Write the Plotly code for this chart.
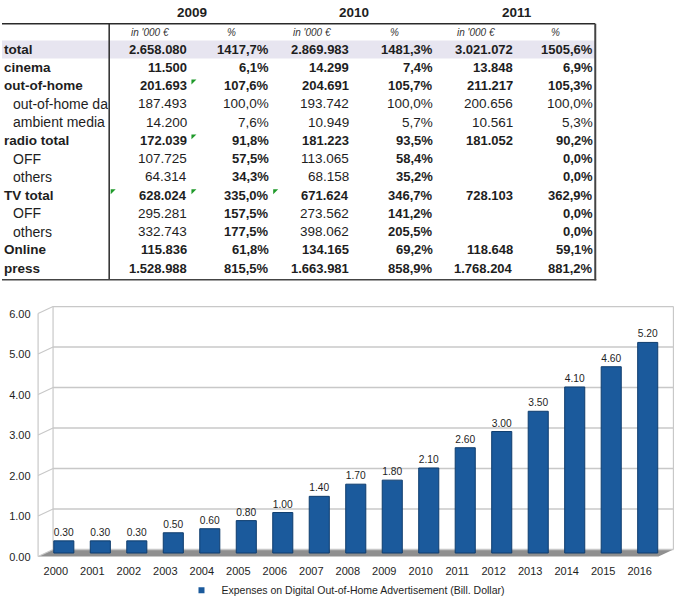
import plotly.graph_objects as go

W, H = 684, 612

# ---------------- table data ----------------
table_years = ["2009", "2010", "2011"]
row_labels = ["total", "cinema", "out-of-home", "out-of-home da", "ambient media",
              "radio total", "OFF", "others", "TV total", "OFF", "others",
              "Online", "press"]
row_bold = [True, True, True, False, False, True, False, False, True, False, False, True, True]
row_indent = [False, False, False, True, True, False, True, True, False, True, True, False, False]

values_2009 = [2658080, 11500, 201693, 187493, 14200, 172039, 107725, 64314,
               628024, 295281, 332743, 115836, 1528988]
pct_2009 = [1417.7, 6.1, 107.6, 100.0, 7.6, 91.8, 57.5, 34.3, 335.0, 157.5, 177.5, 61.8, 815.5]
values_2010 = [2869983, 14299, 204691, 193742, 10949, 181223, 113065, 68158,
               671624, 273562, 398062, 134165, 1663981]
pct_2010 = [1481.3, 7.4, 105.7, 100.0, 5.7, 93.5, 58.4, 35.2, 346.7, 141.2, 205.5, 69.2, 858.9]
values_2011 = [3021072, 13848, 211217, 200656, 10561, 181052, None, None,
               728103, None, None, 118648, 1768204]
pct_2011 = [1505.6, 6.9, 105.3, 100.0, 5.3, 90.2, 0.0, 0.0, 362.9, 0.0, 0.0, 59.1, 881.2]

unit_label = "in '000 €"
pct_label = "%"

# ---------------- chart data ----------------
chart_years = ["2000", "2001", "2002", "2003", "2004", "2005", "2006", "2007", "2008",
               "2009", "2010", "2011", "2012", "2013", "2014", "2015", "2016"]
expenses = [0.30, 0.30, 0.30, 0.50, 0.60, 0.80, 1.00, 1.40, 1.70,
            1.80, 2.10, 2.60, 3.00, 3.50, 4.10, 4.60, 5.20]
y_ticks = [0, 1, 2, 3, 4, 5, 6]
series_name = "Expenses on Digital Out-of-Home Advertisement (Bill. Dollar)"

FONT = "Liberation Sans, Arial, Helvetica, sans-serif"
TXT = "#1e1e1e"


def px(x):
    return x / W


def py(y):
    return 1 - y / H


def fmt_num(v):
    return "" if v is None else f"{v:,}".replace(",", ".")


def fmt_pct(p):
    return "" if p is None else f"{p:.1f}%".replace(".", ",")


fig = go.Figure()

# ---------------- bar chart geometry ----------------
n = len(chart_years)
CAT_W = 36.6
BAR0 = 62.0
PLOT_L = BAR0 - CAT_W / 2
PLOT_R = PLOT_L + n * CAT_W
UNIT = 40.9
ZERO = 558.5
YMIN, YMAX = -0.1, 6.1
DX, DY = 7.5, 3.5
dv = DY / UNIT
BACK_L, BACK_R = PLOT_L + DX, PLOT_R + DX
FRONT_L, FRONT_R = PLOT_L - DX, PLOT_R - DX

fig.add_trace(go.Bar(
    x=chart_years, y=expenses, width=0.55,
    marker=dict(color="#1b5a9c", line=dict(color="#0f3d6e", width=1)),
    text=[f"{v:.2f}" for v in expenses], textposition="outside",
    textfont=dict(size=10.5, color=TXT, family=FONT), cliponaxis=False,
    showlegend=False, name=series_name,
))
# legend entry with a small square symbol
fig.add_trace(go.Scatter(
    x=[None], y=[None], mode="markers", name=series_name,
    marker=dict(symbol="square", size=6, color="#1b5a9c"), showlegend=True,
))

shapes = []
grid_col = "#c8c8c8"
# floor
shapes.append(dict(type="path", xref="paper", yref="y", layer="below",
                   path=f"M{px(FRONT_L)},{-dv} L{px(BACK_L)},{dv} L{px(BACK_R)},{dv} "
                        f"L{px(FRONT_R)},{-dv} Z",
                   fillcolor="#8f8f8f", line=dict(width=0)))
for k in y_ticks:
    shapes.append(dict(type="line", xref="paper", yref="y", layer="below",
                       x0=px(BACK_L), x1=px(BACK_R), y0=k + dv, y1=k + dv,
                       line=dict(color=grid_col, width=1.5)))
    shapes.append(dict(type="line", xref="paper", yref="y", layer="below",
                       x0=px(FRONT_L), x1=px(BACK_L), y0=k - dv, y1=k + dv,
                       line=dict(color=grid_col, width=1.2)))
for xe, lo, hi in [(FRONT_L, -dv, y_ticks[-1] - dv), (BACK_L, dv, y_ticks[-1] + dv),
                   (BACK_R, dv, y_ticks[-1] + dv)]:
    shapes.append(dict(type="line", xref="paper", yref="y", layer="below",
                       x0=px(xe), x1=px(xe), y0=lo, y1=hi,
                       line=dict(color=grid_col, width=1.2)))

# ---------------- table ----------------
ROW0, ROW_H = 49.5, 18.45
TABLE_R = 595
col_right = [187, 269, 349, 433, 513, 594]
year_centers = [191, 353, 517]
unit_centers = [148, 311, 475]
pct_centers = [230, 394, 555]

annotations = []


def add_text(x, y, text, size, anchor="left", bold=False, italic=False, color=TXT):
    t = text
    if bold:
        t = f"<b>{t}</b>"
    if italic:
        t = f"<i>{t}</i>"
    annotations.append(dict(x=px(x), y=py(y), xref="paper", yref="paper", text=t,
                            showarrow=False, xanchor=anchor, yanchor="middle",
                            borderpad=0,
                            font=dict(size=size, color=color, family=FONT)))


# total row band
shapes.append(dict(type="rect", xref="paper", yref="paper", layer="below",
                   x0=px(0), x1=px(TABLE_R), y0=py(ROW0 - 8.5), y1=py(ROW0 + 9.5),
                   fillcolor="#e7e5f0", line=dict(width=0)))
# table lines
line_dark = dict(color="#2a2a2a", width=1.5)
TABLE_B = 282.5
shapes += [
    dict(type="line", xref="paper", yref="paper", x0=px(0), x1=px(TABLE_R),
         y0=py(24), y1=py(24), line=line_dark),
    dict(type="line", xref="paper", yref="paper", x0=px(107.5), x1=px(107.5),
         y0=py(24), y1=py(TABLE_B), line=line_dark),
    dict(type="line", xref="paper", yref="paper", x0=px(TABLE_R), x1=px(TABLE_R),
         y0=py(24), y1=py(TABLE_B + 0.5), line=dict(color="#444", width=2)),
    dict(type="line", xref="paper", yref="paper", x0=px(0), x1=px(TABLE_R + 1),
         y0=py(TABLE_B), y1=py(TABLE_B), line=dict(color="#444", width=1.5)),
]

for yr, xc in zip(table_years, year_centers):
    add_text(xc, 12.5, yr, 13.5, anchor="center", bold=True)
for xc in unit_centers:
    add_text(xc, 33, unit_label, 10, anchor="center", italic=True, color="#333")
for xc in pct_centers:
    add_text(xc, 33, pct_label, 10, anchor="center", italic=True, color="#333")

columns = [(values_2009, fmt_num, False), (pct_2009, fmt_pct, True),
           (values_2010, fmt_num, False), (pct_2010, fmt_pct, True),
           (values_2011, fmt_num, False), (pct_2011, fmt_pct, True)]

for i, label in enumerate(row_labels):
    yc = ROW0 + i * ROW_H
    bold = row_bold[i]
    add_text(10 if row_indent[i] else 1, yc, label, 13.5 if bold else 14,
             anchor="left", bold=bold)
    for (vals, f, is_pct), xr in zip(columns, col_right):
        s = f(vals[i])
        if not s:
            continue
        b = bold or (is_pct and row_indent[i] and i > 4)
        add_text(xr, yc, s, 13 if b else 13.5, anchor="right", bold=b)

# small green cell indicators (row index, cell left edge)
indicators = [(2, 190), (5, 190), (8, 109), (8, 190), (8, 272)]
for r, xl in indicators:
    yt = ROW0 + r * ROW_H - 6
    shapes.append(dict(type="path", xref="paper", yref="paper",
                       path=f"M{px(xl)},{py(yt)} L{px(xl + 5)},{py(yt)} L{px(xl)},{py(yt + 5)} Z",
                       fillcolor="#1f9a2a", line=dict(width=0)))

fig.update_layout(
    width=W, height=H, margin=dict(l=0, r=0, t=0, b=0),
    paper_bgcolor="white", plot_bgcolor="rgba(0,0,0,0)",
    font=dict(family=FONT, color=TXT),
    xaxis=dict(domain=[px(PLOT_L), px(PLOT_R)], type="category", range=[-0.5, n - 0.5],
               showgrid=False, zeroline=False, showline=False, ticks="",
               tickfont=dict(size=11, color=TXT), ticklabelshift=-int(round(DX)),
               ticklabelstandoff=6, fixedrange=True),
    yaxis=dict(domain=[1 - (ZERO - YMIN * UNIT) / H, 1 - (ZERO - YMAX * UNIT) / H],
               range=[YMIN, YMAX], tickvals=y_ticks,
               ticktext=[f"{v:.2f}" for v in y_ticks],
               showgrid=False, zeroline=False, showline=False, ticks="",
               tickfont=dict(size=11, color=TXT), ticklabelshift=4,
               ticklabelstandoff=14, fixedrange=True),
    bargap=0.45,
    legend=dict(orientation="h", x=345 / W, xanchor="center", y=py(596), yanchor="middle",
                font=dict(size=10.5, color=TXT, family=FONT), bgcolor="rgba(0,0,0,0)",
                itemwidth=30),
    shapes=shapes, annotations=annotations,
)

fig.write_html(
    "out.html", config={"displayModeBar": False},
    post_script="var gd=document.getElementById('{plot_id}');"
                "gd.style.position='absolute';gd.style.left='0px';gd.style.top='0px';"
                "document.body.style.margin='0px';"
                "document.documentElement.style.overflow='hidden';",
)
